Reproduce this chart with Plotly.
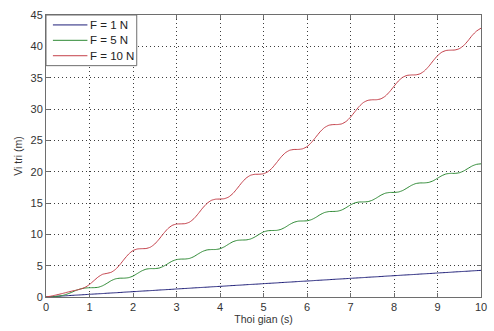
import numpy as np
import plotly.graph_objects as go

# Sample times of the simulation (s)
t = np.round(np.linspace(0.0, 10.0, 101), 2)

# Position (m) for each applied force
pos_f1 = [
    0.00, 0.04, 0.09, 0.13, 0.17, 0.21, 0.26, 0.30, 0.34, 0.38,
    0.43, 0.47, 0.51, 0.55, 0.60, 0.64, 0.68, 0.72, 0.77, 0.81,
    0.85, 0.89, 0.94, 0.98, 1.02, 1.06, 1.11, 1.15, 1.19, 1.23,
    1.28, 1.32, 1.36, 1.40, 1.45, 1.49, 1.53, 1.57, 1.62, 1.66,
    1.70, 1.74, 1.79, 1.83, 1.87, 1.91, 1.96, 2.00, 2.04, 2.08,
    2.13, 2.17, 2.21, 2.25, 2.30, 2.34, 2.38, 2.42, 2.47, 2.51,
    2.55, 2.59, 2.64, 2.68, 2.72, 2.76, 2.81, 2.85, 2.89, 2.93,
    2.98, 3.02, 3.06, 3.10, 3.15, 3.19, 3.23, 3.27, 3.32, 3.36,
    3.40, 3.44, 3.49, 3.53, 3.57, 3.61, 3.66, 3.70, 3.74, 3.78,
    3.83, 3.87, 3.91, 3.95, 4.00, 4.04, 4.08, 4.12, 4.17, 4.21,
    4.25,
]

pos_f5 = [
    0.00, 0.02, 0.07, 0.15, 0.28, 0.50, 0.78, 1.08, 1.30, 1.43,
    1.48, 1.49, 1.55, 1.79, 2.18, 2.61, 2.90, 3.00, 3.01, 3.09,
    3.34, 3.75, 4.16, 4.44, 4.53, 4.53, 4.62, 4.90, 5.31, 5.72,
    5.97, 6.05, 6.06, 6.16, 6.45, 6.88, 7.27, 7.51, 7.57, 7.58,
    7.70, 8.01, 8.44, 8.83, 9.04, 9.09, 9.11, 9.25, 9.57, 10.00,
    10.38, 10.57, 10.61, 10.63, 10.79, 11.13, 11.57, 11.92, 12.10, 12.13,
    12.16, 12.34, 12.69, 13.13, 13.47, 13.63, 13.65, 13.69, 13.89, 14.26,
    14.69, 15.02, 15.16, 15.17, 15.22, 15.44, 15.82, 16.25, 16.56, 16.68,
    16.69, 16.75, 16.99, 17.39, 17.81, 18.10, 18.20, 18.21, 18.29, 18.54,
    18.95, 19.36, 19.64, 19.73, 19.73, 19.82, 20.10, 20.51, 20.92, 21.17,
    21.25,
]

pos_f10 = [
    0.00, 0.12, 0.27, 0.43, 0.60, 0.78, 0.95, 1.10, 1.28, 1.55,
    2.00, 2.60, 3.20, 3.62, 3.77, 3.95, 4.42, 5.17, 6.05, 6.85,
    7.41, 7.66, 7.71, 7.74, 7.95, 8.46, 9.23, 10.11, 10.90, 11.42,
    11.64, 11.67, 11.71, 11.95, 12.50, 13.30, 14.18, 14.93, 15.42, 15.61,
    15.63, 15.69, 15.96, 16.54, 17.36, 18.24, 18.97, 19.42, 19.58, 19.59,
    19.67, 19.98, 20.59, 21.43, 22.30, 23.00, 23.41, 23.54, 23.55, 23.65,
    23.99, 24.64, 25.49, 26.35, 27.02, 27.40, 27.51, 27.52, 27.63, 28.02,
    28.70, 29.56, 30.41, 31.05, 31.38, 31.47, 31.48, 31.63, 32.05, 32.76,
    33.63, 34.46, 35.06, 35.36, 35.43, 35.45, 35.62, 36.08, 36.81, 37.69,
    38.50, 39.07, 39.34, 39.39, 39.42, 39.62, 40.11, 40.88, 41.76, 42.45,
    42.90,
]

series_names = ["F = 1 N", "F = 5 N", "F = 10 N"]
series_data = [pos_f1, pos_f5, pos_f10]
series_colors = ["#1e1e78", "#2f8a35", "#c4404a"]

x_ticks = list(range(0, 11))
y_ticks = list(range(0, 46, 5))

FONT = "Liberation Sans, Arial, sans-serif"
AXIS_COLOR = "#6e6e6e"
TEXT_COLOR = "#333333"

fig = go.Figure()
for name, ys, color in zip(series_names, series_data, series_colors):
    fig.add_trace(go.Scatter(
        x=t, y=ys, mode="lines", name=name, showlegend=False,
        line=dict(color=color, width=1, shape="spline", smoothing=0.6),
    ))

axis_common = dict(
    showline=True, linecolor=AXIS_COLOR, linewidth=1, mirror="ticks",
    ticks="inside", ticklen=4, tickcolor=AXIS_COLOR, tickwidth=1,
    showgrid=True, gridcolor="#3c3c3c", gridwidth=1, griddash="1px,3px",
    zeroline=False,
    tickfont=dict(family=FONT, size=11, color=TEXT_COLOR),
)

fig.update_xaxes(
    range=[0, 10], tickvals=x_ticks, ticktext=[str(v) for v in x_ticks],
    title=dict(text="Thoi gian (s)", standoff=3,
               font=dict(family=FONT, size=10.5, color=TEXT_COLOR)),
    **axis_common,
)
fig.update_yaxes(
    range=[0, 45], tickvals=y_ticks, ticktext=[str(v) for v in y_ticks],
    title=dict(text="Vi tri (m)", standoff=5,
               font=dict(family=FONT, size=10.5, color=TEXT_COLOR)),
    **axis_common,
)

# Compact boxed key in the upper-left corner of the axes
key_box = dict(x0=0.0, x1=0.2086, y0=0.8204, y1=1.0)
key_rows = [0.9648, 0.9102, 0.8556]
key_line_x = (0.0159, 0.0952)
key_text_x = 0.0975

shapes = [dict(
    type="rect", xref="paper", yref="paper", layer="above",
    fillcolor="white", line=dict(color=AXIS_COLOR, width=1), **key_box,
)]
annotations = []
for name, color, ry in zip(series_names, series_colors, key_rows):
    shapes.append(dict(
        type="line", xref="paper", yref="paper", layer="above",
        x0=key_line_x[0], x1=key_line_x[1], y0=ry, y1=ry,
        line=dict(color=color, width=1),
    ))
    annotations.append(dict(
        xref="paper", yref="paper", x=key_text_x, y=ry,
        xanchor="left", yanchor="middle", showarrow=False,
        text=name, font=dict(family=FONT, size=11.5, color="#222222"),
    ))

fig.update_layout(
    width=494, height=331,
    margin=dict(l=46, r=7, t=15, b=32),
    paper_bgcolor="white", plot_bgcolor="white",
    showlegend=False,
    shapes=shapes, annotations=annotations,
)

fig.write_html("out.html")
